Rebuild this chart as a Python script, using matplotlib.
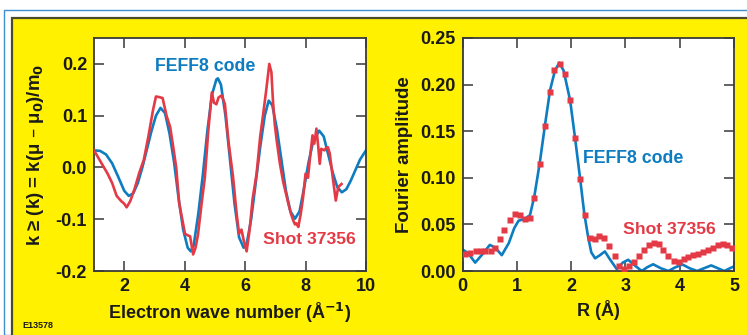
import matplotlib
matplotlib.use('Agg')
import matplotlib.pyplot as plt
from matplotlib.patches import Rectangle
from matplotlib.ticker import FormatStrFormatter

plt.rcParams['font.family'] = ['Liberation Sans', 'DejaVu Sans']
plt.rcParams['font.weight'] = 'bold'

# left panel: k-weighted EXAFS
k_feff = [1.0, 1.2, 1.4, 1.6, 1.8, 2.0, 2.15, 2.3, 2.45, 2.6, 2.75, 2.9, 3.05, 3.2, 3.35,
          3.5, 3.65, 3.8, 3.95, 4.1, 4.2, 4.3, 4.45, 4.6, 4.75, 4.9, 5.05, 5.1, 5.2, 5.35,
          5.5, 5.65, 5.8, 5.95, 6.05, 6.2, 6.35, 6.5, 6.65, 6.78, 6.9, 7.05, 7.2, 7.35, 7.5,
          7.65, 7.8, 7.95, 8.1, 8.25, 8.45, 8.6, 8.75, 8.9, 9.05, 9.2, 9.35, 9.5, 9.65, 9.8, 10.0]
chi_feff = [0.033, 0.032, 0.025, 0.008, -0.018, -0.045, -0.055, -0.05, -0.03, 0.0, 0.035,
            0.07, 0.1, 0.115, 0.105, 0.065, 0.01, -0.06, -0.12, -0.155, -0.162, -0.15, -0.09,
            -0.015, 0.07, 0.14, 0.17, 0.172, 0.16, 0.1, 0.015, -0.07, -0.135, -0.155, -0.148,
            -0.1, -0.03, 0.04, 0.1, 0.129, 0.12, 0.075, 0.015, -0.045, -0.085, -0.099, -0.085,
            -0.04, 0.01, 0.05, 0.071, 0.06, 0.025, -0.01, -0.038, -0.048, -0.042, -0.025,
            -0.005, 0.015, 0.033]

k_shot = [1.0, 1.15, 1.3, 1.45, 1.6, 1.75, 1.9, 2.0, 2.08, 2.2, 2.35, 2.5, 2.65, 2.8, 2.95,
          3.05, 3.15, 3.27, 3.4, 3.52, 3.62, 3.72, 3.82, 3.92, 4.01, 4.1, 4.18, 4.28, 4.36,
          4.44, 4.55, 4.67, 4.78, 4.9, 4.97, 5.05, 5.12, 5.22, 5.33, 5.45, 5.6, 5.72, 5.8,
          5.88, 5.95, 6.05, 6.15, 6.25, 6.38, 6.5, 6.6, 6.7, 6.8, 6.87, 6.92, 6.98, 7.05,
          7.15, 7.26, 7.35, 7.43, 7.52, 7.59, 7.65, 7.7, 7.76, 7.84, 7.92, 8.0, 8.08, 8.15,
          8.23, 8.29, 8.36, 8.42, 8.47, 8.52, 8.63, 8.68, 8.74, 8.8, 8.91, 9.0, 9.08, 9.19]
chi_shot = [0.033, 0.018, 0.003, -0.012, -0.03, -0.055, -0.065, -0.07, -0.077, -0.065, -0.04,
            -0.01, 0.015, 0.06, 0.11, 0.137, 0.136, 0.134, 0.1, 0.078, 0.04, 0.0, -0.07, -0.1,
            -0.128, -0.131, -0.133, -0.168, -0.155, -0.13, -0.075, -0.018, 0.07, 0.145, 0.125,
            0.122, 0.135, 0.139, 0.123, 0.05, -0.018, -0.09, -0.128, -0.12, -0.14, -0.162,
            -0.12, -0.06, -0.012, 0.06, 0.104, 0.15, 0.2, 0.184, 0.13, 0.084, 0.05, 0.008,
            -0.028, -0.05, -0.07, -0.09, -0.102, -0.11, -0.108, -0.115, -0.09, -0.057, -0.012,
            -0.02, 0.02, 0.062, 0.046, 0.075, 0.04, 0.007, 0.036, 0.033, 0.038, 0.039, 0.027,
            -0.024, -0.064, -0.038, -0.032]

# right panel: Fourier amplitude
r_feff = [0.0, 0.1, 0.23, 0.35, 0.5, 0.6, 0.72, 0.85, 0.95, 1.03, 1.15, 1.24, 1.32, 1.42,
          1.52, 1.61, 1.7, 1.78, 1.86, 1.98, 2.07, 2.16, 2.24, 2.31, 2.37, 2.44, 2.53, 2.62,
          2.72, 2.84, 2.95, 3.05, 3.17, 3.3, 3.4, 3.51, 3.65, 3.79, 3.92, 4.05, 4.18, 4.32,
          4.45, 4.58, 4.7, 4.82, 5.0]
amp_feff = [0.023, 0.019, 0.009, 0.017, 0.028, 0.025, 0.017, 0.03, 0.046, 0.054, 0.056,
            0.06, 0.08, 0.116, 0.158, 0.194, 0.215, 0.2235, 0.215, 0.183, 0.143, 0.101, 0.062,
            0.037, 0.02, 0.0136, 0.017, 0.021, 0.012, 0.002, 0.009, 0.012, 0.006, 0.0, 0.004,
            0.0072, 0.003, 0.0, 0.004, 0.007, 0.003, 0.0, 0.003, 0.006, 0.003, 0.0, 0.005]

r_shot = [0.04, 0.13, 0.24, 0.33, 0.42, 0.52, 0.6, 0.69, 0.77, 0.87, 0.96, 1.05, 1.14, 1.24,
          1.32, 1.42, 1.51, 1.6, 1.69, 1.79, 1.88, 1.97, 2.07, 2.16, 2.25, 2.34, 2.43, 2.52,
          2.61, 2.7, 2.8, 2.88, 2.98, 3.07, 3.16, 3.25, 3.35, 3.43, 3.52, 3.61, 3.7, 3.79,
          3.89, 3.98, 4.07, 4.16, 4.25, 4.34, 4.42, 4.52, 4.61, 4.7, 4.79, 4.87, 4.96]
amp_shot = [0.018, 0.019, 0.021, 0.0217, 0.021, 0.021, 0.0245, 0.034, 0.044, 0.055, 0.061,
            0.0605, 0.0555, 0.0565, 0.078, 0.115, 0.156, 0.192, 0.216, 0.222, 0.211, 0.183,
            0.143, 0.099, 0.06, 0.0353, 0.034, 0.0378, 0.0355, 0.027, 0.016, 0.0053, 0.0017,
            0.005, 0.0095, 0.016, 0.023, 0.028, 0.0305, 0.029, 0.023, 0.016, 0.011, 0.0093,
            0.0125, 0.015, 0.0173, 0.0187, 0.02, 0.022, 0.025, 0.028, 0.029, 0.028, 0.0245]

BLUE = '#0d7cc1'
RED = '#e33a46'
YELLOW = '#fff100'
W, H = 747, 335

fig = plt.figure(figsize=(7.47, 3.35), dpi=100, facecolor='white')

# frame: thin blue rule, then yellow panel with dark edge
fig.patches.append(Rectangle((3.5 / W, 0), 1.2, 1 - 9.5 / H, transform=fig.transFigure,
                             fill=False, edgecolor='#3d8fd0', lw=1.0, zorder=-2))
fig.patches.append(Rectangle((11.5 / W, -0.1), 1.2, 1.1 - 18.5 / H, transform=fig.transFigure,
                             facecolor=YELLOW, edgecolor='#4b4a2a', lw=1.6, zorder=-1))

ax1 = fig.add_axes([94 / W, 64 / H, 272 / W, 233 / H])
ax2 = fig.add_axes([462.7 / W, 64 / H, 271.3 / W, 233 / H])

for ax in (ax1, ax2):
    ax.set_zorder(1)
    ax.set_facecolor('white')
    for s in ax.spines.values():
        s.set_color('#3a3a3a')
        s.set_linewidth(1.3)
    ax.tick_params(direction='in', length=7, width=1.3, color='#555555',
                   top=True, right=True, labelsize=13, pad=5, labelcolor='#1a1a1a')

ax1.plot(k_feff, chi_feff, color=BLUE, lw=1.9, zorder=2)
ax1.plot(k_shot, chi_shot, color=RED, lw=1.9, zorder=3)
ax1.set_xlim(1, 10)
ax1.set_ylim(-0.2, 0.25)
ax1.set_xticks([2, 4, 6, 8, 10])
ax1.set_yticks([-0.2, -0.1, 0.0, 0.1, 0.2])
ax1.yaxis.set_major_formatter(FormatStrFormatter('%.1f'))
ax1.set_xlabel('Electron wave number (Å$^{\\mathbf{-1}}$)', fontsize=13, fontweight='bold',
               color='#1a1a1a', labelpad=4)
ax1.set_ylabel('k ≥ (k) = k(μ – μ$_\\mathbf{0}$)/m$_\\mathbf{0}$', fontsize=13.4,
               fontweight='bold', color='#1a1a1a', labelpad=7)
ax1.text(3.02, 0.195, 'FEFF8 code', color=BLUE, fontsize=12.8, fontweight='bold',
         va='center', ha='left')
ax1.text(6.59, -0.139, 'Shot 37356', color=RED, fontsize=12.6, fontweight='bold',
         va='center', ha='left')

ax2.plot(r_feff, amp_feff, color=BLUE, lw=1.9, zorder=2)
ax2.plot(r_shot, amp_shot, ls='none', marker='s', ms=4.5, color=RED, mec='none', zorder=3)
ax2.set_xlim(0, 5)
ax2.set_ylim(0, 0.25)
ax2.set_xticks([0, 1, 2, 3, 4, 5])
ax2.set_yticks([0, 0.05, 0.10, 0.15, 0.20, 0.25])
ax2.yaxis.set_major_formatter(FormatStrFormatter('%.2f'))
ax2.set_xlabel('R (Å)', fontsize=13, fontweight='bold', color='#1a1a1a', labelpad=4)
ax2.set_ylabel('Fourier amplitude', fontsize=13.4, fontweight='bold', color='#1a1a1a',
               labelpad=5)
ax2.text(2.22, 0.121, 'FEFF8 code', color=BLUE, fontsize=12.8, fontweight='bold',
         va='center', ha='left')
ax2.text(2.95, 0.045, 'Shot 37356', color=RED, fontsize=12.6, fontweight='bold',
         va='center', ha='left')

fig.text(22 / W, 1 - 325 / H, 'E13578', fontsize=6.5, fontweight='bold', color='#1a1a1a',
         va='center', ha='left')

fig.savefig('out.png', dpi=100, facecolor='white')
